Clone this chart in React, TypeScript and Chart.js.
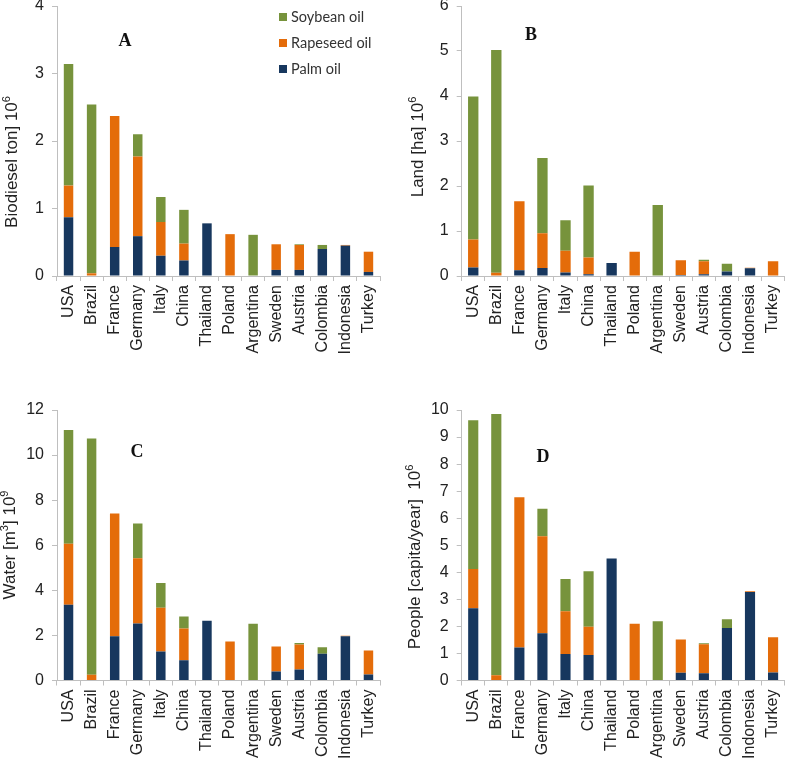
import React, { useEffect, useRef } from "react";
import { Chart, registerables } from "chart.js";

Chart.register(...registerables);

const categories = [
  "USA", "Brazil", "France", "Germany", "Italy", "China", "Thailand",
  "Poland", "Argentina", "Sweden", "Austria", "Colombia", "Indonesia", "Turkey",
];
const seriesNames = ["Palm oil", "Rapeseed oil", "Soybean oil"];

// A: Biodiesel ton 10^6
const palmA = [0.87, 0, 0.43, 0.59, 0.30, 0.23, 0.78, 0, 0, 0.09, 0.09, 0.40, 0.45, 0.06];
const rapeA = [0.47, 0.04, 1.94, 1.18, 0.50, 0.25, 0, 0.62, 0, 0.38, 0.37, 0, 0.01, 0.30];
const soyA = [1.80, 2.50, 0, 0.33, 0.37, 0.50, 0, 0, 0.61, 0, 0.01, 0.06, 0, 0];

// B: Land ha 10^6
const palmB = [0.19, 0, 0.13, 0.18, 0.08, 0.04, 0.29, 0, 0, 0.02, 0.04, 0.10, 0.17, 0.01];
const rapeB = [0.62, 0.07, 1.53, 0.77, 0.48, 0.37, 0, 0.54, 0, 0.33, 0.29, 0, 0.015, 0.32];
const soyB = [3.18, 4.95, 0, 1.67, 0.68, 1.60, 0, 0, 1.58, 0, 0.03, 0.17, 0, 0];

// C: Water m3 10^9
const palmC = [3.36, 0, 1.96, 2.53, 1.29, 0.90, 2.65, 0, 0, 0.40, 0.49, 1.19, 1.96, 0.27];
const rapeC = [2.71, 0.25, 5.45, 2.89, 1.94, 1.41, 0, 1.73, 0, 1.11, 1.11, 0, 0.03, 1.06];
const soyC = [5.04, 10.49, 0, 1.54, 1.10, 0.53, 0, 0, 2.52, 0, 0.06, 0.29, 0, 0];

// D: People capita/year 10^6
const palmD = [2.67, 0, 1.22, 1.75, 0.98, 0.94, 4.51, 0, 0, 0.29, 0.27, 1.94, 3.27, 0.30];
const rapeD = [1.45, 0.19, 5.55, 3.58, 1.58, 1.05, 0, 2.10, 0, 1.23, 1.07, 0, 0.03, 1.30];
const soyD = [5.50, 9.66, 0, 1.02, 1.19, 2.05, 0, 0, 2.19, 0, 0.04, 0.32, 0, 0];

const yMaxA = 4, yStepA = 1;
const yMaxB = 6, yStepB = 1;
const yMaxC = 12, yStepC = 2;
const yMaxD = 10, yStepD = 1;

const COLORS = ["#17375e", "#e46c0a", "#77933c"];
const AXIS = "#bfbfbf";
const TEXT = "#222222";
const SANS = '"Liberation Sans", Arial, sans-serif';

type Seg = { t: string; sup?: boolean };

interface Panel {
  key: string;
  left: number; top: number; w: number; h: number;
  padTop: number; padRight: number; yW: number; xH: number;
  max: number; step: number;
  palm: number[]; rape: number[]; soy: number[];
  barPct: number;
  title: Seg[]; titleX: number; titleY: number;
  letter: string; letterX: number; letterY: number;
  legend: boolean;
}

const panels: Panel[] = [
  {
    key: "A", left: 0, top: 0, w: 392, h: 380, padTop: 6, padRight: 12, yW: 57, xH: 104,
    max: yMaxA, step: yStepA, palm: palmA, rape: rapeA, soy: soyA, barPct: 0.41,
    title: [{ t: "Biodiesel ton] 10" }, { t: "6", sup: true }], titleX: 12, titleY: 162,
    letter: "A", letterX: 125, letterY: 41, legend: true,
  },
  {
    key: "B", left: 392, top: 0, w: 395, h: 380, padTop: 6, padRight: 2.4, yW: 69.7, xH: 104,
    max: yMaxB, step: yStepB, palm: palmB, rape: rapeB, soy: soyB, barPct: 0.45,
    title: [{ t: "Land [ha] 10" }, { t: "6", sup: true }], titleX: 26, titleY: 147,
    letter: "B", letterX: 139, letterY: 35, legend: false,
  },
  {
    key: "C", left: 0, top: 380, w: 392, h: 378, padTop: 30, padRight: 12, yW: 57, xH: 77.5,
    max: yMaxC, step: yStepC, palm: palmC, rape: rapeC, soy: soyC, barPct: 0.41,
    title: [{ t: "Water [m" }, { t: "3", sup: true }, { t: "] 10" }, { t: "9", sup: true }],
    titleX: 10, titleY: 165, letter: "C", letterX: 137, letterY: 72, legend: false,
  },
  {
    key: "D", left: 392, top: 380, w: 395, h: 378, padTop: 30, padRight: 2.4, yW: 69.7, xH: 77.5,
    max: yMaxD, step: yStepD, palm: palmD, rape: rapeD, soy: soyD, barPct: 0.44,
    title: [{ t: "People [capita/year]  10" }, { t: "6", sup: true }], titleX: 23, titleY: 177,
    letter: "D", letterX: 151, letterY: 77, legend: false,
  },
];

function makeDecor(p: Panel) {
  return {
    id: "decor" + p.key,
    afterDraw(chart: any) {
      const ctx = chart.ctx as CanvasRenderingContext2D;
      // Y axis title with superscripts
      ctx.save();
      ctx.translate(p.titleX, p.titleY);
      ctx.rotate(-Math.PI / 2);
      const base = "17px " + SANS;
      const sup = "11px " + SANS;
      let total = 0;
      for (const s of p.title) {
        ctx.font = s.sup ? sup : base;
        total += ctx.measureText(s.t).width;
      }
      let x = -total / 2;
      ctx.fillStyle = TEXT;
      ctx.textBaseline = "middle";
      ctx.textAlign = "left";
      for (const s of p.title) {
        ctx.font = s.sup ? sup : base;
        ctx.fillText(s.t, x, s.sup ? -5 : 0);
        x += ctx.measureText(s.t).width;
      }
      ctx.restore();

      // Panel letter
      ctx.save();
      ctx.font = 'bold 18px "Liberation Serif", "Times New Roman", serif';
      ctx.fillStyle = "#111";
      ctx.textAlign = "center";
      ctx.textBaseline = "middle";
      ctx.fillText(p.letter, p.letterX, p.letterY);
      ctx.restore();

      // Legend
      if (p.legend) {
        ctx.save();
        const ds = chart.data.datasets.slice().reverse();
        ctx.font = '14.5px Lato, "Liberation Sans", sans-serif';
        ctx.textBaseline = "middle";
        ctx.textAlign = "left";
        ds.forEach((d: any, i: number) => {
          const cy = 17 + i * 26;
          ctx.fillStyle = d.backgroundColor;
          ctx.fillRect(279, cy - 4, 8, 8);
          ctx.fillStyle = "#333";
          ctx.fillText(d.label, 291, cy);
        });
        ctx.restore();
      }
    },
  };
}

function PanelChart({ p }: { p: Panel }) {
  const ref = useRef<HTMLCanvasElement | null>(null);
  useEffect(() => {
    if (!ref.current) return;
    const values = [p.palm, p.rape, p.soy];
    const chart = new Chart(ref.current, {
      type: "bar",
      data: {
        labels: categories,
        datasets: values.map((v, i) => ({
          label: seriesNames[i],
          data: v,
          backgroundColor: COLORS[i],
          borderWidth: 0,
          categoryPercentage: 1,
          barPercentage: p.barPct,
        })),
      },
      options: {
        responsive: false,
        animation: false,
        devicePixelRatio: 1,
        layout: { padding: { left: 0, top: p.padTop, right: p.padRight, bottom: 0 } },
        plugins: { legend: { display: false }, tooltip: { enabled: false }, title: { display: false } },
        scales: {
          x: {
            stacked: true,
            offset: true,
            grid: {
              display: true,
              offset: true,
              drawOnChartArea: false,
              drawTicks: true,
              tickLength: 5,
              color: AXIS,
            },
            border: { display: true, color: AXIS, width: 1 },
            ticks: {
              autoSkip: false,
              minRotation: 90,
              maxRotation: 90,
              padding: 4,
              color: TEXT,
              font: { family: SANS, size: 16 },
            },
            afterFit: (s: any) => {
              s.height = p.xH;
              s.paddingLeft = 0;
              s.paddingRight = 0;
            },
          },
          y: {
            stacked: true,
            min: 0,
            max: p.max,
            grid: {
              display: true,
              drawOnChartArea: false,
              drawTicks: true,
              tickLength: 5,
              color: AXIS,
            },
            border: { display: true, color: AXIS, width: 1 },
            ticks: {
              stepSize: p.step,
              padding: 8,
              color: TEXT,
              font: { family: SANS, size: 16 },
            },
            afterFit: (s: any) => {
              s.width = p.yW;
              s.paddingTop = 0;
              s.paddingBottom = 0;
            },
          },
        },
      },
      plugins: [makeDecor(p)],
    } as any);
    return () => chart.destroy();
  }, [p]);
  return (
    <canvas
      ref={ref}
      width={p.w}
      height={p.h}
      style={{ position: "absolute", left: p.left, top: p.top, width: p.w, height: p.h }}
    />
  );
}

export default function App() {
  return (
    <div style={{ position: "absolute", left: 0, top: 0, width: 787, height: 758, background: "#fff" }}>
      {panels.map((p) => (
        <PanelChart key={p.key} p={p} />
      ))}
    </div>
  );
}
